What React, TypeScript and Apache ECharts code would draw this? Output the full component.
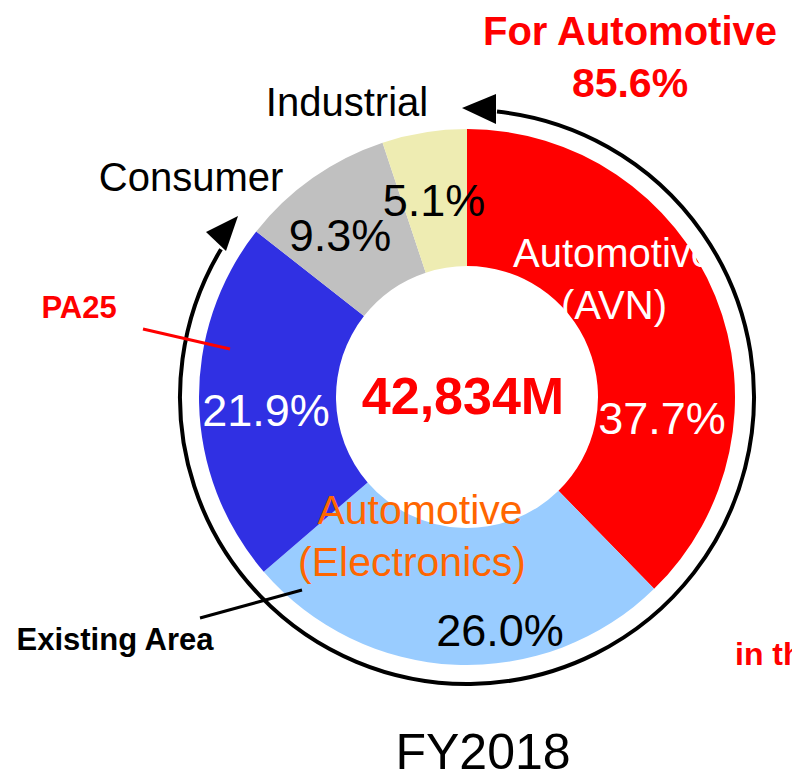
import React, { useEffect, useRef } from "react";
import * as echarts from "echarts";

const categories = [
  "Automotive (AVN)",
  "Automotive (Electronics)",
  "PA25",
  "Consumer",
  "Industrial",
];
const shares = [37.7, 26.0, 21.9, 9.3, 5.1];
const colors = ["#ff0000", "#99ccff", "#3030e3", "#c0c0c0", "#eeecb2"];
const totalSalesM = 42834;
const fiscalYear = "FY2018";
const automotiveIdx = [0, 1, 2];

const FONT = '"Liberation Sans", Arial, Helvetica, sans-serif';

export default function App() {
  const ref = useRef<HTMLDivElement>(null);
  useEffect(() => {
    document.body.style.margin = "0";
    const chart = echarts.init(ref.current!, null, { renderer: "svg" });
    const cx = 467;
    const cy = 397;
    const autoShare = automotiveIdx.reduce((s, i) => s + shares[i], 0);
    const pct = (v: number) => v.toFixed(1) + "%";

    const txt = (
      text: string,
      x: number,
      y: number,
      fill: string,
      fontSize: number,
      fontWeight: string = "normal",
      align: string = "center"
    ) => ({
      type: "text",
      x,
      y,
      z: 100,
      silent: true,
      style: {
        text,
        fill,
        fontSize,
        fontWeight,
        fontFamily: FONT,
        align,
        verticalAlign: "middle",
      },
    });

    chart.setOption({
      animation: false,
      backgroundColor: "#ffffff",
      series: [
        {
          type: "pie",
          center: [cx, cy],
          radius: [131, 268],
          startAngle: 90,
          clockwise: true,
          silent: true,
          label: { show: false },
          labelLine: { show: false },
          itemStyle: { borderWidth: 0 },
          emphasis: { disabled: true },
          data: categories.map((name, i) => ({
            name,
            value: shares[i],
            itemStyle: { color: colors[i] },
          })),
        },
      ],
      graphic: [
        {
          type: "arc",
          z: 90,
          silent: true,
          shape: {
            cx,
            cy,
            r: 287,
            startAngle: (-84 * Math.PI) / 180,
            endAngle: (211 * Math.PI) / 180,
            clockwise: true,
          },
          style: { stroke: "#000", lineWidth: 4, fill: "none" },
        },
        {
          type: "polygon",
          z: 91,
          silent: true,
          shape: { points: [[462, 108], [496, 94], [496, 124]] },
          style: { fill: "#000" },
        },
        {
          type: "polygon",
          z: 91,
          silent: true,
          shape: { points: [[238, 216], [206, 232], [226, 251]] },
          style: { fill: "#000" },
        },
        {
          type: "line",
          z: 95,
          silent: true,
          shape: { x1: 143, y1: 329, x2: 230, y2: 349 },
          style: { stroke: "#ff0000", lineWidth: 3 },
        },
        {
          type: "line",
          z: 95,
          silent: true,
          shape: { x1: 200, y1: 618, x2: 302, y2: 590 },
          style: { stroke: "#000", lineWidth: 3 },
        },
        txt("For Automotive", 630, 31, "#ff0000", 40, "bold"),
        txt(pct(autoShare), 630, 83, "#ff0000", 41, "bold"),
        txt(categories[4], 347, 102, "#000", 40),
        txt(categories[3], 191, 177, "#000", 40),
        txt(pct(shares[4]), 434, 200, "#000", 45),
        txt(pct(shares[3]), 340, 235, "#000", 45),
        txt(pct(shares[2]), 266, 410, "#fff", 45),
        txt(pct(shares[0]), 662, 418, "#fff", 45),
        txt(pct(shares[1]), 500, 630, "#000", 45),
        txt("Automotive", 613, 253, "#fff", 40),
        txt("(AVN)", 614, 305, "#fff", 40),
        txt("Automotive", 420, 510, "#ff6600", 41),
        txt("(Electronics)", 412, 562, "#ff6600", 41),
        txt(totalSalesM.toLocaleString("en-US") + "M", 463, 396, "#ff0000", 52, "bold"),
        txt(categories[2], 79, 307, "#ff0000", 31, "bold"),
        txt("Existing Area", 115, 639, "#000", 31, "bold"),
        txt("in the future", 735, 654, "#ff0000", 32, "bold", "left"),
        txt(fiscalYear, 483, 752, "#000", 50),
      ],
    });
    return () => chart.dispose();
  }, []);
  return <div ref={ref} style={{ width: 792, height: 777 }} />;
}
